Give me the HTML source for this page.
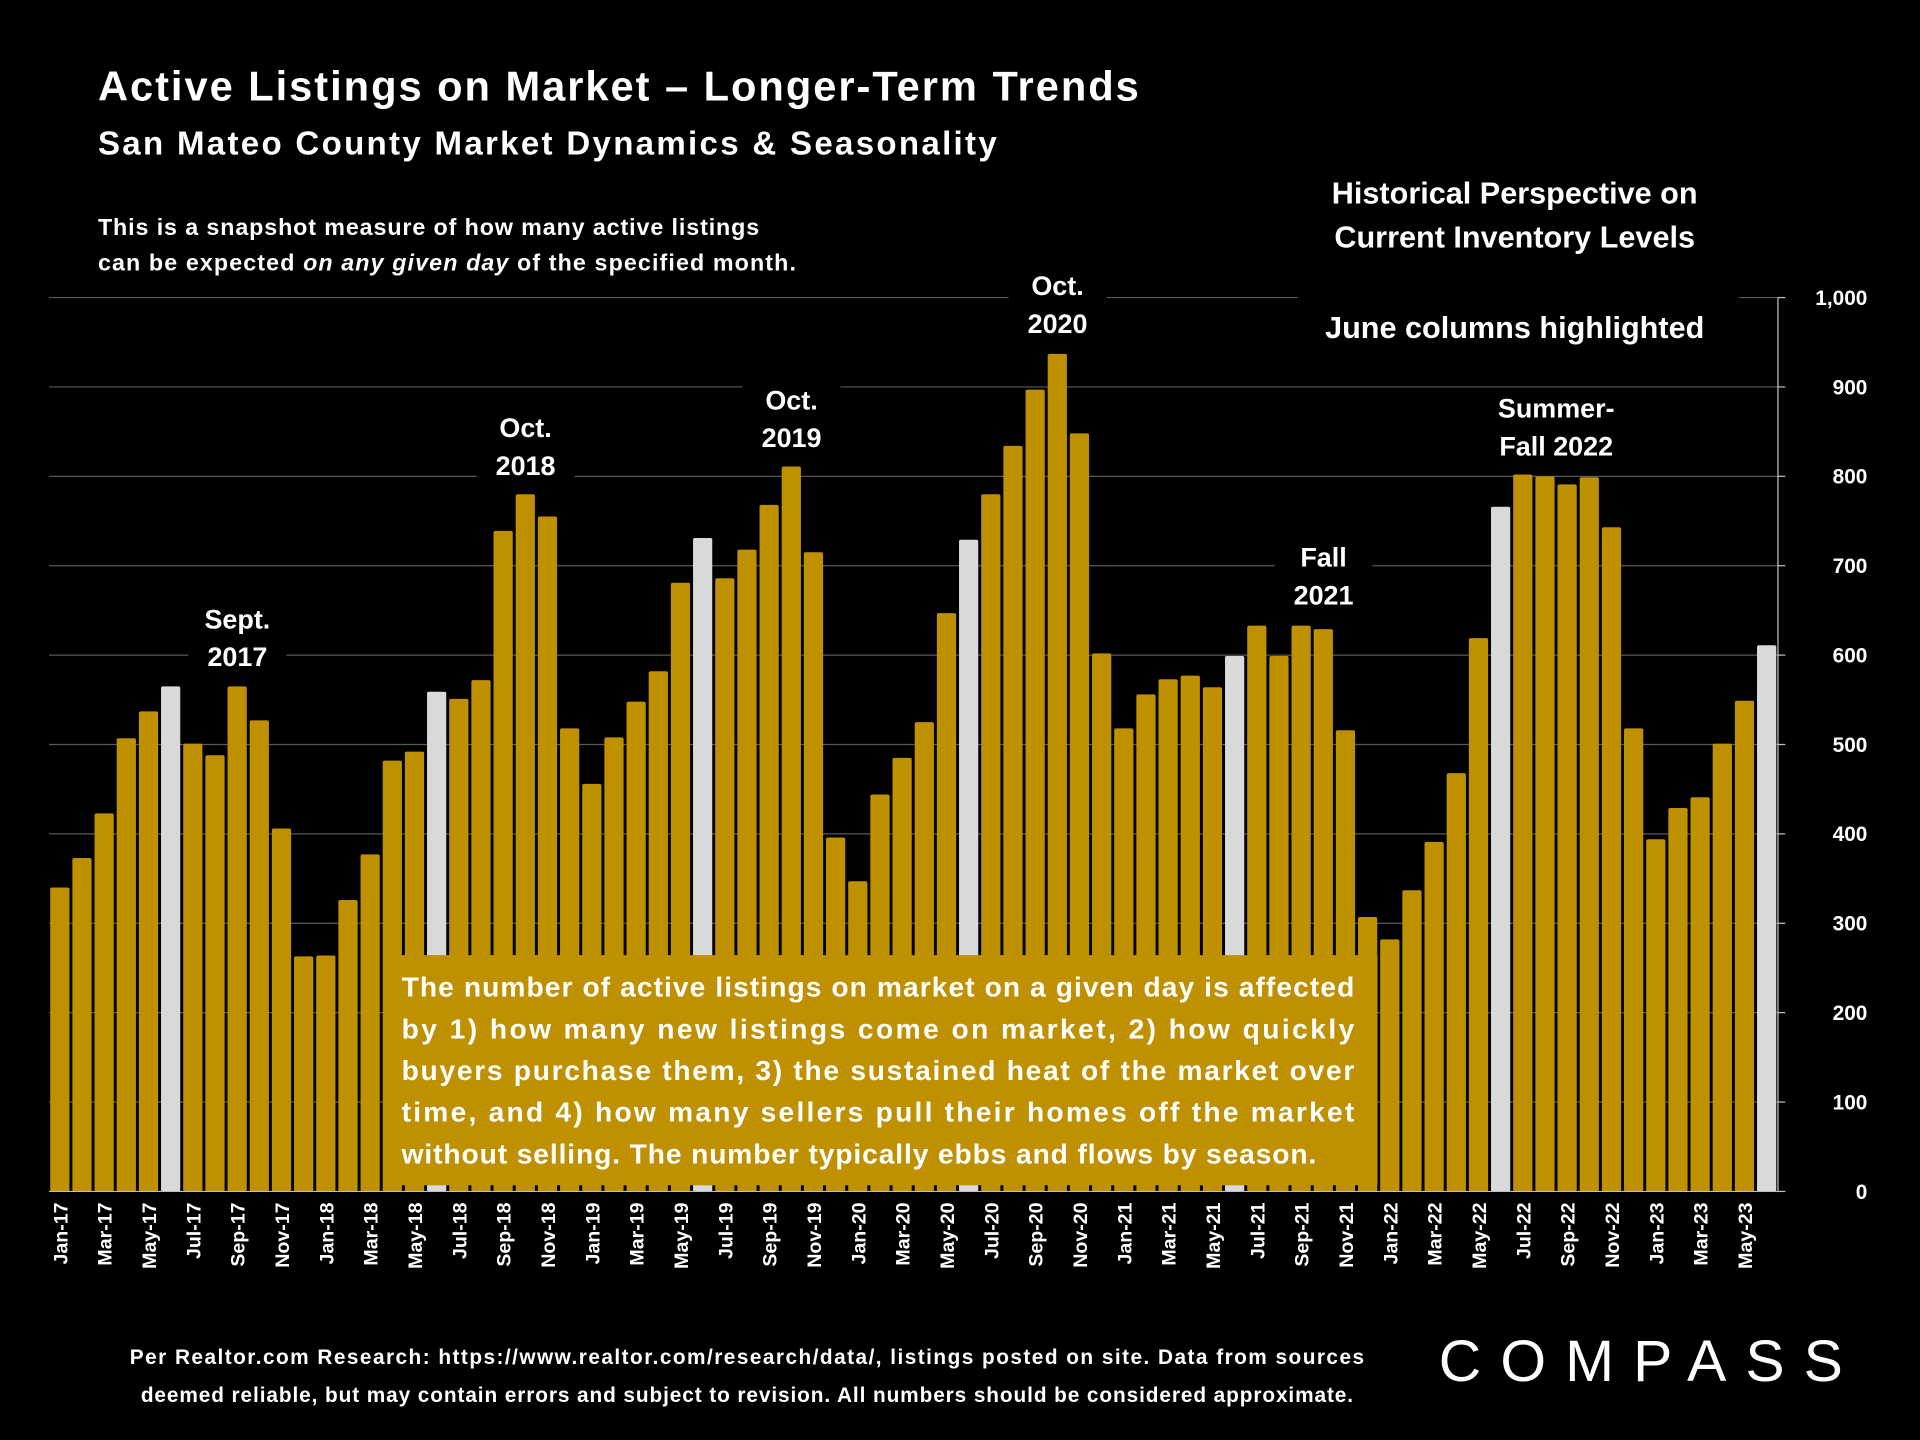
<!DOCTYPE html>
<html><head><meta charset="utf-8">
<style>
html,body{margin:0;padding:0;background:#000;}
svg{display:block;}
text{font-family:"Liberation Sans",sans-serif;font-weight:bold;fill:#fff;}
</style></head>
<body>
<svg id="chart" width="1920" height="1440" viewBox="0 0 1568 1176" xmlns="http://www.w3.org/2000/svg">
<rect x="0" y="0" width="1568" height="1176" fill="#000"/>
<g id="grid"></g>
<g id="bars"></g>
<g id="xlabels"></g>
<g id="yaxis"></g>

<text x="80" y="82" font-size="34" textLength="850">Active Listings on Market – Longer-Term Trends</text>
<text x="80" y="126" font-size="27" textLength="734">San Mateo County Market Dynamics &amp; Seasonality</text>
<text x="80" y="192" font-size="19" textLength="540">This is a snapshot measure of how many active listings</text>
<text x="80" y="221" font-size="19" textLength="570">can be expected <tspan font-style="italic">on any given day</tspan> of the specified month.</text>

<g>
<rect x="1060" y="138" width="360" height="112" fill="#000"/>
<rect x="1065" y="250" width="345" height="34" fill="#000"/>
<text x="1237" y="166" font-size="25" text-anchor="middle">Historical Perspective on</text>
<text x="1237" y="202" font-size="25" text-anchor="middle">Current Inventory Levels</text>
<text x="1237" y="276" font-size="25" text-anchor="middle">June columns highlighted</text>
</g>

<g id="annots"></g>

<g>
<rect x="313" y="780" width="812" height="188" fill="#BF9000"/>
<text x="328" y="814" font-size="23" textLength="778">The number of active listings on market on a given day is affected</text>
<text x="328" y="848" font-size="23" textLength="778">by 1) how many new listings come on market, 2) how quickly</text>
<text x="328" y="882" font-size="23" textLength="778">buyers purchase them, 3) the sustained heat of the market over</text>
<text x="328" y="916" font-size="23" textLength="778">time, and 4) how many sellers pull their homes off the market</text>
<text x="328" y="950" font-size="23" textLength="747">without selling. The number typically ebbs and flows by season.</text>
</g>

<text x="610" y="1114" font-size="17" text-anchor="middle" textLength="1008">Per Realtor.com Research:  https://www.realtor.com/research/data/, listings posted on site. Data from sources</text>
<text x="610" y="1145" font-size="17" text-anchor="middle" textLength="990">deemed reliable, but may contain errors and subject to revision. All numbers should be considered approximate.</text>
<text x="1175" y="1128" font-size="48" textLength="330" style="font-weight:normal">COMPASS</text>
</svg>
<script>
const categories=["Jan-17","Feb-17","Mar-17","Apr-17","May-17","Jun-17","Jul-17","Aug-17","Sep-17","Oct-17","Nov-17","Dec-17",
"Jan-18","Feb-18","Mar-18","Apr-18","May-18","Jun-18","Jul-18","Aug-18","Sep-18","Oct-18","Nov-18","Dec-18",
"Jan-19","Feb-19","Mar-19","Apr-19","May-19","Jun-19","Jul-19","Aug-19","Sep-19","Oct-19","Nov-19","Dec-19",
"Jan-20","Feb-20","Mar-20","Apr-20","May-20","Jun-20","Jul-20","Aug-20","Sep-20","Oct-20","Nov-20","Dec-20",
"Jan-21","Feb-21","Mar-21","Apr-21","May-21","Jun-21","Jul-21","Aug-21","Sep-21","Oct-21","Nov-21","Dec-21",
"Jan-22","Feb-22","Mar-22","Apr-22","May-22","Jun-22","Jul-22","Aug-22","Sep-22","Oct-22","Nov-22","Dec-22",
"Jan-23","Feb-23","Mar-23","Apr-23","May-23","Jun-23"];
const values=[340,373,423,507,537,565,501,488,565,527,406,263,
264,326,377,482,492,559,551,572,739,780,755,518,
456,508,548,582,681,731,686,718,768,811,715,396,
347,444,485,525,647,729,780,834,897,937,848,602,
518,556,573,577,564,599,633,599,633,629,516,307,
282,337,391,468,619,766,802,800,791,799,743,518,
394,429,441,501,549,611];
const xTickLabels=["Jan-17","Mar-17","May-17","Jul-17","Sep-17","Nov-17","Jan-18","Mar-18","May-18","Jul-18","Sep-18","Nov-18","Jan-19","Mar-19","May-19","Jul-19","Sep-19","Nov-19","Jan-20","Mar-20","May-20","Jul-20","Sep-20","Nov-20","Jan-21","Mar-21","May-21","Jul-21","Sep-21","Nov-21","Jan-22","Mar-22","May-22","Jul-22","Sep-22","Nov-22","Jan-23","Mar-23","May-23"];
const yTicks=[0,100,200,300,400,500,600,700,800,900,1000];
const yTickLabels=["0","100","200","300","400","500","600","700","800","900","1,000"];
const annotCats=["Sep-17","Oct-18","Oct-19","Oct-20","Oct-21","Aug-22"];
const annotLines=[["Sept.","2017"],["Oct.","2018"],["Oct.","2019"],["Oct.","2020"],["Fall","2021"],["Summer-","Fall 2022"]];
const annotValues=[630,844,875,1003,699,866];

const NS="http://www.w3.org/2000/svg";
const L=40,R=1452,Y0=973,Y1=243,YMAX=1000;
const slot=(R-L)/categories.length;
const x=i=>L+slot*i;
const y=v=>Y0-(v/YMAX)*(Y0-Y1);
function mk(t,a,p){const e=document.createElementNS(NS,t);for(const k in a)e.setAttribute(k,a[k]);p.appendChild(e);return e;}
const grid=document.getElementById('grid'),bars=document.getElementById('bars'),xl=document.getElementById('xlabels'),ya=document.getElementById('yaxis'),an=document.getElementById('annots');
yTicks.forEach((t,i)=>{
  if(t>0){const g=mk('line',{x1:L,x2:R,y1:y(t),y2:y(t),stroke:'#595959','stroke-width':1},grid);
  
  }
  const tk=mk('line',{x1:R,x2:R+6,y1:y(t),y2:y(t),stroke:'#bfbfbf','stroke-width':1},ya);
  
  
  const tl=mk('text',{x:1525,y:y(t)+6,'font-size':17,'text-anchor':'end'},ya);
  tl.textContent=yTickLabels[i];
  
  
});
const ax=mk('line',{x1:R,x2:R,y1:Y1,y2:Y0,stroke:'#bfbfbf','stroke-width':1},ya);


const bl=mk('line',{x1:L,x2:R,y1:Y0,y2:Y0,stroke:'#bfbfbf','stroke-width':1},ya);


values.forEach((v,i)=>{
  const june=categories[i].startsWith('Jun');
  const r=mk('rect',{x:x(i)+1,y:y(v),width:slot-2.4,height:Y0-y(v),fill:june?'#D9D9D9':'#BF9000',rx:1.5},bars);
  
  
});
xTickLabels.forEach(c=>{
  const i=categories.indexOf(c);const cx=x(i)+slot/2+6;
  const t=mk('text',{x:cx,y:982,'font-size':16,'text-anchor':'end',transform:`rotate(-90 ${cx} 982)`},xl);
  t.textContent=c;
  
  
});
annotCats.forEach((c,k)=>{
  const i=categories.indexOf(c);const cx=x(i)+slot/2+(k===5?9:0);const ty=y(annotValues[k]);
  const w=annotLines[k][1].length>5?110:80;
  const b=mk('rect',{x:cx-w/2,y:ty-24,width:w,height:66,fill:'#000'},an);
  
  
  annotLines[k].forEach((s,j)=>{
    const t=mk('text',{x:cx,y:ty+j*31,'font-size':22,'text-anchor':'middle'},an);
    t.textContent=s;
    
    
  });
});
</script>
</body></html>
